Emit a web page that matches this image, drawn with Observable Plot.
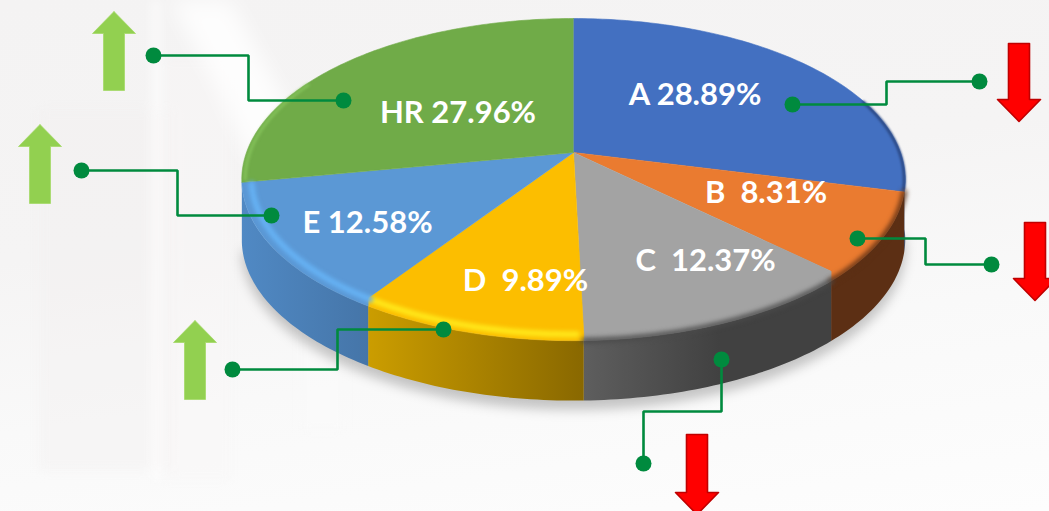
<!DOCTYPE html>
<html><head><meta charset="utf-8">
<script src="https://cdn.jsdelivr.net/npm/d3@7"></script>
<script src="https://cdn.jsdelivr.net/npm/@observablehq/plot@0.6"></script>
<style>
html,body{margin:0;padding:0;width:1049px;height:511px;overflow:hidden;
background:linear-gradient(172deg,#f4f3f3 0%,#f5f4f4 40%,#f9f9f9 66%,#fdfdfd 100%);}
svg{display:block;background:transparent!important;}
</style></head><body><div id="chart"></div>
<script>
// Data
const categories = ["A", "B", "C", "D", "E", "HR"];
const shares = [28.89, 8.31, 12.37, 9.89, 12.58, 27.96];
const labelGaps = [" ", "\u00a0 ", "\u00a0 ", "\u00a0 ", " ", " "];

// Styles
const topColors  = ["#4370c1", "#ea7b30", "#a3a3a3", "#fcbe00", "#5b98d5", "#70ab48"];
const sideFrom   = ["#1f3864", "#5c2f14", "#5e5e5e", "#cb9d00", "#5089c4", "#4c7a30"];
const sideTo     = ["#1f3864", "#5c2f14", "#414141", "#896800", "#4575a8", "#4c7a30"];
const rimColors  = ["#2c4a86", "#8a4a1e", "#6e6e6e", "#ffe81a", "#66b2f4", "#84c25a"];

// Pie layout on the page: perspective projection of a disc
const cx = 573, cy = 152, rx = 327, ry = 156.5, persp = 0.168, depth = 60, rimR = 0.97;
const project = (deg, r = 1, dz = 0) => {
  const t = deg * Math.PI / 180, X = r * Math.sin(t), Y = -r * Math.cos(t), w = 1 - persp * Y;
  return {x: cx + rx * X / w, y: cy + ry * Y / w + dz};
};
const arc = (a, b, r = 1, dz = 0) => {
  const n = Math.max(2, Math.ceil(Math.abs(b - a))), out = [];
  for (let i = 0; i <= n; i++) out.push(project(a + (b - a) * i / n, r, dz));
  return out;
};
// Angle on the outer edge directly below where a slice border meets the bevel
const seamAngle = deg => {
  const target = project(deg, rimR).x;
  let lo = deg - 20, hi = deg + 20;
  for (let i = 0; i < 40; i++) {
    const mid = (lo + hi) / 2;
    if (project(mid).x > target) lo = mid; else hi = mid;
  }
  return (lo + hi) / 2;
};
let acc = 0;
const slices = categories.map((c, i) => {
  const a = acc * 3.6; acc += shares[i];
  return {i, a, b: acc * 3.6, label: c + labelGaps[i] + shares[i].toFixed(2) + "%"};
});
const isFront = deg => deg > 120 && deg < 240;
const seam = deg => isFront(deg) ? seamAngle(deg) : deg;
const visFrom = 96;

// Annotations (page positions)
const labelX = [694.5, 765.5, 705, 525, 367, 457.5];
const labelY = [95, 193, 261, 281, 223, 113];
const leaderX = [[792,886,886,979],[857,925,925,991],[721,721,643,643],[443,337,337,232],[271,177,177,81],[343,248,248,153]];
const leaderY = [[104,104,81,81],[238,238,264,264],[359,411,411,463],[329,329,369,369],[215,215,170,170],[100,100,55,55]];
const arrowX  = [1018.5, 1034.5, 696.5, 194.5, 39.5, 113.5];
const arrowTip  = [121, 300, 514, 320, 124, 11];
const arrowBack = [43, 222, 434, 399, 203, 90];
const arrowOf = (x, tip, back) => {
  const dir = back > tip ? 1 : -1, base = tip + dir * 22;
  const p = [[x,tip],[x+21.5,base],[x+10.5,base],[x+10.5,back],[x-10.5,back],[x-10.5,base],[x-21.5,base],[x,tip]];
  return p.map(([x, y]) => ({x, y}));
};
const bgBands = [[40,175,110,470,"#f1efef"],[155,230,60,480,"#f8f6f6"],[300,345,170,430,"#fbfbfb"],[150,162,0,480,"#ffffff"]];
const swoosh = [{x:170,y:0},{x:230,y:0},{x:295,y:120},{x:250,y:165},{x:215,y:85}];

const defs = () => {
  const d = d3.create("svg:defs");
  slices.forEach(s => {
    const g = d.append("linearGradient").attr("id", "side" + s.i);
    g.append("stop").attr("offset", "0%").attr("stop-color", sideFrom[s.i]);
    g.append("stop").attr("offset", s.i === 2 ? "55%" : "100%").attr("stop-color", sideTo[s.i]);
  });
  return d.node();
};
const poly = {x: "x", y: "y"};
const marks = [defs];

marks.push(Plot.rect(bgBands, {x1: d => d[0], x2: d => d[1], y1: d => d[2], y2: d => d[3], fill: d => d[4], fillOpacity: 0.45, imageFilter: "blur(5px)"}));
marks.push(Plot.line(swoosh, {...poly, fill: "#ffffff", stroke: "none", fillOpacity: 0.8, imageFilter: "blur(10px)"}));

// Shadow
marks.push(Plot.line(arc(visFrom, slices[4].b, 1, depth + 9), {...poly, fill: "#000000", stroke: "none", fillOpacity: 0.22, imageFilter: "blur(6px)"}));

// Sides
slices.slice(0, 5).forEach(s => {
  const a = Math.max(seam(s.a), visFrom), b = seam(s.b);
  if (b <= a) return;
  const pts = [...arc(a, b, 1, 0), ...arc(b, a, 1, depth)];
  marks.push(Plot.line(pts, {...poly, fill: `url(#side${s.i})`, stroke: "none"}));
});

// Top faces, each border bending at the bevel
slices.forEach(s => {
  const pts = [{x: cx, y: cy}];
  if (isFront(s.a)) pts.push(project(s.a, rimR));
  pts.push(...arc(seam(s.a), seam(s.b)));
  if (isFront(s.b)) pts.push(project(s.b, rimR));
  marks.push(Plot.line(pts, {...poly, fill: topColors[s.i], stroke: topColors[s.i], strokeWidth: 0.6}));
});

// Bevel along the rim
slices.forEach(s => {
  if (s.i === 5) {
    marks.push(Plot.line(arc(s.a + 1, 298, 0.99), {...poly, stroke: rimColors[s.i], strokeWidth: 3, imageFilter: "blur(1.5px)"}));
  } else if (s.i === 0) {
    marks.push(Plot.line(arc(70, s.b - 1, 0.997), {...poly, stroke: rimColors[s.i], strokeWidth: 3, imageFilter: "blur(1px)"}));
  } else if (s.i >= 3) {
    marks.push(Plot.line(arc(seam(s.a) + 1, s.b - 1, 0.972), {...poly, stroke: rimColors[s.i], strokeWidth: 6, imageFilter: "blur(2px)"}));
  } else {
    marks.push(Plot.line(arc(seam(s.a), seam(s.b), 1), {...poly, stroke: s.i === 1 ? "#5c2f14" : "#4a4a4a", strokeWidth: 5, imageFilter: "blur(2.5px)"}));
  }
});

// Arrows
slices.forEach(s => {
  const up = arrowBack[s.i] > arrowTip[s.i];
  marks.push(Plot.line(arrowOf(arrowX[s.i], arrowTip[s.i], arrowBack[s.i]), {
    ...poly, fill: up ? "#92d050" : "#ff0000", stroke: up ? "#a4d968" : "#c00000", strokeWidth: up ? 0.8 : 1.6}));
});

// Leaders
slices.forEach(s => {
  const pts = leaderX[s.i].map((x, k) => ({x, y: leaderY[s.i][k]}));
  marks.push(Plot.line(pts, {...poly, stroke: "#008a3e", strokeWidth: 2.6, strokeLinejoin: "miter"}));
  marks.push(Plot.dot([pts[0], pts[3]], {...poly, r: 8, fill: "#008a3e", stroke: "none"}));
});

// Labels
marks.push(Plot.text(slices, {x: s => labelX[s.i], y: s => labelY[s.i], text: "label", fill: "#ffffff", fontSize: 31, fontWeight: 700, fontFamily: "Lato", textAnchor: "middle"}));

const chart = Plot.plot({
  width: 1049, height: 511, margin: 0,
  x: {domain: [0, 1049], range: [0, 1049], axis: null},
  y: {domain: [0, 511], range: [0, 511], axis: null},
  style: {background: "transparent"},
  marks
});
document.getElementById("chart").append(chart);
</script></body></html>
